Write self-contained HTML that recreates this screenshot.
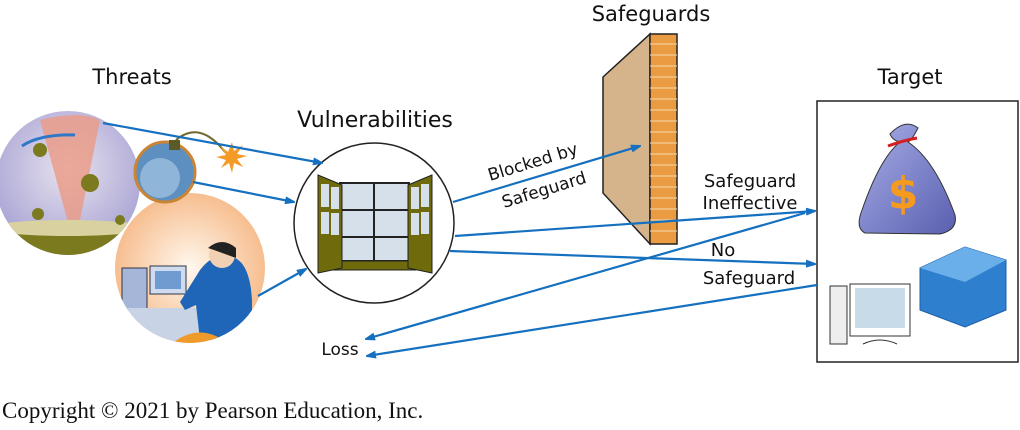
<!DOCTYPE html>
<html><head><style>
body{margin:0;width:1020px;height:425px;background:#fff;overflow:hidden}
svg text{font-family:"DejaVu Sans","Liberation Sans",sans-serif;fill:#111}
</style></head><body>
<svg width="1020" height="425" viewBox="0 0 1020 425" xmlns="http://www.w3.org/2000/svg">
<defs>
<marker id="a" markerWidth="10" markerHeight="8" refX="9" refY="4" orient="auto" markerUnits="userSpaceOnUse"><path d="M0,0 L12,4 L0,8 Z" fill="#1570bf"/></marker>
<radialGradient id="sky" cx="0.5" cy="0.4" r="0.6"><stop offset="0" stop-color="#e8e2ee"/><stop offset="1" stop-color="#a8a4d4"/></radialGradient>
<radialGradient id="peach" cx="0.5" cy="0.5" r="0.55"><stop offset="0" stop-color="#fff8ee"/><stop offset="1" stop-color="#f6b886"/></radialGradient>
<linearGradient id="bag" x1="0" y1="0" x2="1" y2="1"><stop offset="0" stop-color="#a7aee6"/><stop offset="1" stop-color="#5a5fb0"/></linearGradient>
<clipPath id="c1"><circle cx="68" cy="183" r="72"/></clipPath>
<clipPath id="c2"><circle cx="190" cy="268" r="75"/></clipPath>
</defs>

<circle cx="68" cy="183" r="72" fill="url(#sky)"/>
<g clip-path="url(#c1)">
<path d="M40,120 Q80,110 100,120 L80,220 L70,230 Z" fill="#eb9a84" opacity="0.8"/>
<rect x="-10" y="225" width="160" height="40" fill="#7c7a1e"/>
<ellipse cx="68" cy="228" rx="80" ry="8" fill="#d9d2a0"/>
<circle cx="40" cy="150" r="7" fill="#7c7a1e"/><circle cx="90" cy="183" r="9" fill="#7c7a1e"/>
<circle cx="38" cy="214" r="6" fill="#7c7a1e"/><circle cx="120" cy="220" r="5" fill="#7c7a1e"/>
</g>
<path d="M22,146 Q40,134 75,135" stroke="#2f78c8" stroke-width="3" fill="none"/>
<circle cx="190" cy="268" r="75" fill="url(#peach)"/>
<g clip-path="url(#c2)">
<rect x="122" y="268" width="25" height="42" fill="#a6b6d8" stroke="#334" stroke-width="1"/>
<rect x="150" y="266" width="36" height="28" fill="#cfdcef" stroke="#334"/>
<rect x="155" y="271" width="26" height="18" fill="#6f9bd1"/>
<rect x="120" y="308" width="100" height="40" fill="#c9d3e6"/>
<path d="M200,270 Q215,250 235,258 Q250,265 252,300 L252,340 L200,340 L196,305 L185,310 L180,302 Z" fill="#1f66b8"/>
<circle cx="222" cy="255" r="13" fill="#f1d0b3"/><path d="M208,248 Q222,236 236,248 L236,258 L214,250Z" fill="#222"/>
<path d="M170,345 Q200,320 230,345 Z" fill="#ef9a2b"/>
<path d="M240,330 L265,300 L265,345 L240,345Z" fill="#d42a2a"/>
</g>
<circle cx="165" cy="172" r="30" fill="#5d8fc0" stroke="#c98434" stroke-width="3"/>
<circle cx="160" cy="178" r="20" fill="#8fb6d8"/>
<rect x="169" y="140" width="11" height="10" fill="#5b5b2a"/>
<path d="M176,140 Q200,120 225,152" stroke="#6e6a2c" stroke-width="2" fill="none"/>
<path d="M228,152 l4,-10 l2,9 l9,-6 l-6,9 l10,2 l-10,3 l6,8 l-9,-4 l-2,10 l-3,-10 l-8,5 l5,-8 l-10,-3 l10,-2 l-6,-9z" fill="#f39a27"/>

<circle cx="374" cy="223" r="80" fill="#fff" stroke="#222" stroke-width="1.5"/>
<rect x="340" y="183" width="69" height="78" fill="#d6e0ea" stroke="#222" stroke-width="2"/>
<line x1="374" y1="183" x2="374" y2="261" stroke="#222" stroke-width="2"/>
<line x1="340" y1="210" x2="409" y2="210" stroke="#222" stroke-width="2"/>
<line x1="340" y1="237" x2="409" y2="237" stroke="#222" stroke-width="2"/>
<rect x="333" y="261" width="83" height="9" fill="#6f6a0c" stroke="#222"/>
<path d="M318,175 L342,185 L342,268 L318,273 Z" fill="#6f6a0c" stroke="#222"/>
<path d="M432,175 L408,185 L408,268 L432,273 Z" fill="#6f6a0c" stroke="#222"/>
<rect x="321" y="184" width="8" height="23" fill="#d6e0ea"/><rect x="331" y="187" width="8" height="22" fill="#d6e0ea"/>
<rect x="321" y="212" width="8" height="22" fill="#d6e0ea"/><rect x="331" y="213" width="8" height="22" fill="#d6e0ea"/>
<rect x="421" y="184" width="8" height="23" fill="#d6e0ea"/><rect x="411" y="187" width="8" height="22" fill="#d6e0ea"/>
<rect x="421" y="212" width="8" height="22" fill="#d6e0ea"/><rect x="411" y="213" width="8" height="22" fill="#d6e0ea"/>

<path d="M603,77 L650,34 L650,244 L603,193 Z" fill="#d5b48c" stroke="#222" stroke-width="1.5"/>
<rect x="650" y="34" width="27" height="210" fill="#eb9c42" stroke="#222" stroke-width="1.5"/>
<g stroke="#f6d8b0" stroke-width="1">
<path d="M650,44H677M650,55H677M650,66H677M650,77H677M650,88H677M650,99H677M650,110H677M650,121H677M650,132H677M650,143H677M650,154H677M650,165H677M650,176H677M650,187H677M650,198H677M650,209H677M650,220H677M650,231H677"/>
</g>

<rect x="817" y="101" width="201" height="261" fill="#fff" stroke="#222" stroke-width="1.5"/>
<path d="M890,134 Q905,118 918,128 Q912,140 908,142 Q935,160 955,215 Q958,230 940,234 L865,233 Q855,228 862,210 Q880,158 900,142 Q892,140 890,134Z" fill="url(#bag)" stroke="#333"/>
<path d="M888,146 Q905,140 917,138" stroke="#d42020" stroke-width="3" fill="none"/>
<text x="903" y="208" font-size="44" font-weight="bold" style="fill:#f39a1f" text-anchor="middle">$</text>
<path d="M920,268 L965,247 L1006,260 L1006,310 L965,327 L920,310Z" fill="#2f7fcf" stroke="#1d5fa8"/>
<path d="M920,268 L965,247 L1006,260 L965,282Z" fill="#6aaeea"/>
<rect x="830" y="286" width="17" height="58" fill="#eee" stroke="#333"/>
<rect x="850" y="284" width="60" height="52" fill="#fff" stroke="#333"/>
<rect x="855" y="288" width="50" height="40" fill="#c8dbe8"/>
<path d="M863,344 Q880,336 897,344" stroke="#333" fill="#fff"/>

<g stroke="#1570bf" stroke-width="2.2" fill="none" marker-end="url(#a)">
<line x1="103" y1="123" x2="322" y2="163"/>
<line x1="193" y1="182" x2="294" y2="202"/>
<line x1="258" y1="296" x2="306" y2="269"/>
<line x1="453" y1="202" x2="640" y2="146"/>
<line x1="455" y1="236" x2="815" y2="211"/>
<line x1="450" y1="251" x2="815" y2="264"/>
<line x1="805" y1="213" x2="366" y2="339"/>
<line x1="817" y1="285" x2="367" y2="356"/>
</g>

<text x="132" y="84" font-size="21" text-anchor="middle">Threats</text>
<text x="375" y="127" font-size="22" text-anchor="middle">Vulnerabilities</text>
<text x="651" y="21" font-size="21" text-anchor="middle">Safeguards</text>
<text x="910" y="84" font-size="21" text-anchor="middle">Target</text>
<text x="0" y="0" font-size="17" transform="translate(490,181) rotate(-17)">Blocked by</text>
<text x="0" y="0" font-size="17" transform="translate(504,208) rotate(-17)">Safeguard</text>
<text x="750" y="187" font-size="18" text-anchor="middle">Safeguard</text>
<text x="750" y="209" font-size="18" text-anchor="middle">Ineffective</text>
<text x="723" y="256" font-size="18" text-anchor="middle">No</text>
<text x="749" y="284" font-size="18" text-anchor="middle">Safeguard</text>
<text x="340" y="355" font-size="17" text-anchor="middle">Loss</text>
<text x="2" y="418" font-size="23" style="font-family:'Liberation Serif',serif">Copyright © 2021 by Pearson Education, Inc.</text>
</svg>
</body></html>
